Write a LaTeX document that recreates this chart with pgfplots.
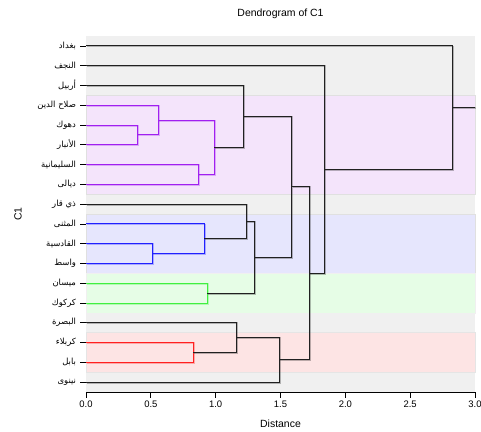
\documentclass[border=0pt]{standalone}
\usepackage{pgfplots}
\pgfplotsset{compat=1.18}
\usepackage{fontspec}
\setmainfont{Liberation Sans}
\newfontfamily\arabicfont[Script=Arabic]{DejaVu Sans}
\TeXXeTstate=1
\definecolor{bggray}{HTML}{F0F0F0}
\definecolor{bandpurple}{HTML}{F4E4FB}
\definecolor{bandblue}{HTML}{E6E6FD}
\definecolor{bandgreen}{HTML}{E6FDE6}
\definecolor{bandred}{HTML}{FDE4E4}
\definecolor{cpurple}{HTML}{A020F0}
\definecolor{cblue}{HTML}{2020FF}
\definecolor{cgreen}{HTML}{40F040}
\definecolor{cred}{HTML}{FF2020}
\definecolor{clink}{HTML}{202020}
\tikzset{
  shadowline/.style={line width=1.9bp, opacity=0.3, xshift=0.6bp, yshift=-0.6bp},
}
\newcommand\link[2]{%
  \addplot[#1, shadowline] coordinates {#2};
  \addplot[#1, line width=0.9bp] coordinates {#2};
}
\begin{document}
\begin{tikzpicture}
\begin{axis}[
  scale only axis,
  width=389bp, height=356bp,
  at={(0,0)}, anchor=south west,
  xmin=0, xmax=3, ymin=0, ymax=18,
  axis x line*=bottom, axis y line*=left,
  axis line style={black, line width=0.8bp, -},
  tick align=outside,
  major tick length=5.5bp,
  tick style={black, line width=0.7bp},
  xtick={0,0.5,1,1.5,2,2.5,3},
  xticklabel style={font=\fontsize{9.5}{11}\selectfont, /pgf/number format/.cd, fixed, fixed zerofill, precision=1, assume math mode=true},
  ytick={0.5,1.5,...,17.5},
  yticklabels={{\beginR نينوى\endR},{\beginR بابل\endR},{\beginR كربلاء\endR},{\beginR البصرة\endR},{\beginR كركوك\endR},{\beginR ميسان\endR},{\beginR واسط\endR},{\beginR القادسية\endR},{\beginR المثنى\endR},{\beginR ذي قار\endR},{\beginR ديالى\endR},{\beginR السليمانية\endR},{\beginR الأنبار\endR},{\beginR دهوك\endR},{\beginR صلاح الدين\endR},{\beginR أربيل\endR},{\beginR النجف\endR},{\beginR بغداد\endR}},
  yticklabel style={font=\arabicfont\fontsize{8.5}{10}\selectfont, xshift=-1bp},
  title={Dendrogram of C1},
  title style={at={(rel axis cs:0.5,1)}, anchor=center, yshift=16bp, font=\fontsize{10.5}{12}\selectfont},
  xlabel={Distance},
  xlabel style={at={(rel axis cs:0.5,0)}, anchor=center, yshift=-32bp, font=\fontsize{10.5}{12}\selectfont},
  ylabel={C1},
  ylabel style={at={(rel axis cs:0,0.5)}, anchor=center, yshift=68bp, font=\fontsize{10.5}{12}\selectfont},
  clip=false,
]
\fill[bggray] (axis cs:0,0) rectangle (axis cs:3,18);
\filldraw[fill=bandpurple, draw=black!12, line width=0.5bp] (axis cs:0,10) rectangle (axis cs:3,15);
\filldraw[fill=bandblue, draw=black!12, line width=0.5bp] (axis cs:0,6) rectangle (axis cs:3,9);
\filldraw[fill=bandgreen, draw=black!6, line width=0.5bp] (axis cs:0,4) rectangle (axis cs:3,6);
\filldraw[fill=bandred, draw=black!10, line width=0.5bp] (axis cs:0,1) rectangle (axis cs:3,3);
% purple cluster
\link{cpurple}{(0,13.5)(0.40,13.5)(0.40,12.5)(0,12.5)}
\link{cpurple}{(0,14.5)(0.56,14.5)(0.56,13.0)(0.40,13.0)}
\link{cpurple}{(0,11.5)(0.87,11.5)(0.87,10.5)(0,10.5)}
\link{cpurple}{(0.56,13.75)(0.99,13.75)(0.99,11.0)(0.87,11.0)}
\link{clink}{(0,15.5)(1.216,15.5)(1.216,12.375)(0.99,12.375)}
% blue cluster
\link{cblue}{(0,7.5)(0.51,7.5)(0.51,6.5)(0,6.5)}
\link{cblue}{(0,8.5)(0.91,8.5)(0.91,7.0)(0.51,7.0)}
\link{clink}{(0,9.5)(1.24,9.5)(1.24,7.75)(0.91,7.75)}
% green cluster
\link{cgreen}{(0,5.5)(0.935,5.5)(0.935,4.5)(0,4.5)}
\link{clink}{(1.24,8.625)(1.30,8.625)(1.30,5.0)(0.935,5.0)}
\link{clink}{(1.216,13.9375)(1.588,13.9375)(1.588,6.8125)(1.30,6.8125)}
% red cluster
\link{cred}{(0,2.5)(0.827,2.5)(0.827,1.5)(0,1.5)}
\link{clink}{(0,3.5)(1.16,3.5)(1.16,2.0)(0.827,2.0)}
\link{clink}{(1.16,2.75)(1.49,2.75)(1.49,0.5)(0,0.5)}
% upper merges
\link{clink}{(1.588,10.375)(1.72,10.375)(1.72,1.625)(1.49,1.625)}
\link{clink}{(0,16.5)(1.837,16.5)(1.837,6.0)(1.72,6.0)}
\link{clink}{(0,17.5)(2.825,17.5)(2.825,11.25)(1.837,11.25)}
\link{clink}{(2.825,14.375)(3.0,14.375)}
\end{axis}
\pgfresetboundingbox
\path (-86bp,-40bp) rectangle (395bp,392bp);
\end{tikzpicture}
\end{document}
